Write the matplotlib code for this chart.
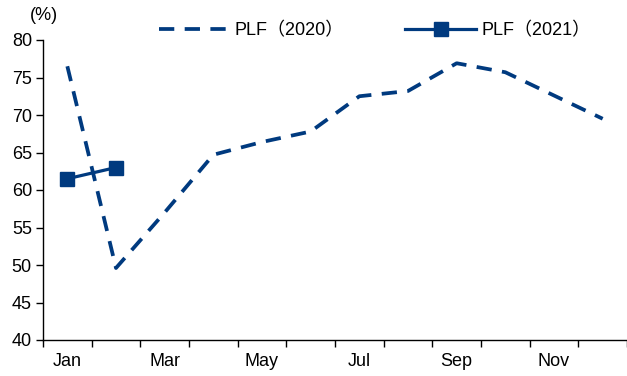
import matplotlib
matplotlib.use("Agg")
import matplotlib.pyplot as plt
from matplotlib.ticker import FixedLocator, NullFormatter

plt.rcParams['font.family'] = ['Liberation Sans', 'Noto Sans CJK SC', 'DejaVu Sans']
plt.rcParams['lines.scale_dashes'] = False

months = ['Jan', 'Feb', 'Mar', 'Apr', 'May', 'Jun',
          'Jul', 'Aug', 'Sep', 'Oct', 'Nov', 'Dec']
plf_2020 = [76.5, 49.6, 57.0, 64.7, 66.4, 67.8, 72.5, 73.2, 76.9, 75.7, 72.6, 69.5]
plf_2021 = [61.5, 63.0]
label_2020 = 'PLF（2020）'
label_2021 = 'PLF（2021）'
shown_labels = ['Jan', 'Mar', 'May', 'Jul', 'Sep', 'Nov']

color = '#003A7F'
fs = 13

fig = plt.figure(figsize=(6.27, 3.76), dpi=100)
ax = fig.add_axes([43 / 627, 1 - 340 / 376, 584 / 627, 300 / 376])

x20 = list(range(len(plf_2020)))
x21 = list(range(len(plf_2021)))
ax.plot(x20, plf_2020, color=color, lw=2.7, dashes=(11, 7.5),
        dash_capstyle='butt', label=label_2020)
ax.plot(x21, plf_2021, color=color, lw=2.3, marker='s', markersize=9.5,
        label=label_2021)

ax.set_xlim(-0.5, 11.5)
ax.set_ylim(40, 80)
ax.set_yticks(range(40, 81, 5))

major = [months.index(m) for m in shown_labels]
ax.set_xticks(major)
ax.set_xticklabels(shown_labels)
ax.xaxis.set_minor_locator(FixedLocator([i - 0.5 for i in range(13)]))
ax.xaxis.set_minor_formatter(NullFormatter())
ax.tick_params(axis='x', which='major', length=0, pad=9, labelsize=fs)
ax.tick_params(axis='x', which='minor', length=5, width=1, direction='out')
ax.tick_params(axis='y', length=5, width=1, direction='out', pad=3, labelsize=fs)

for side in ('top', 'right'):
    ax.spines[side].set_visible(False)
for side in ('left', 'bottom'):
    ax.spines[side].set_linewidth(1)

ax.legend(loc='center', bbox_to_anchor=(0.568, 1.03), ncol=2, frameon=False,
          fontsize=fs, handlelength=3.9, handletextpad=0.3, columnspacing=3.4,
          borderaxespad=0)

fig.text(44 / 627, 1 - 15 / 376, '(%)', ha='center', va='center', fontsize=fs)

fig.savefig('out.png', dpi=100)
